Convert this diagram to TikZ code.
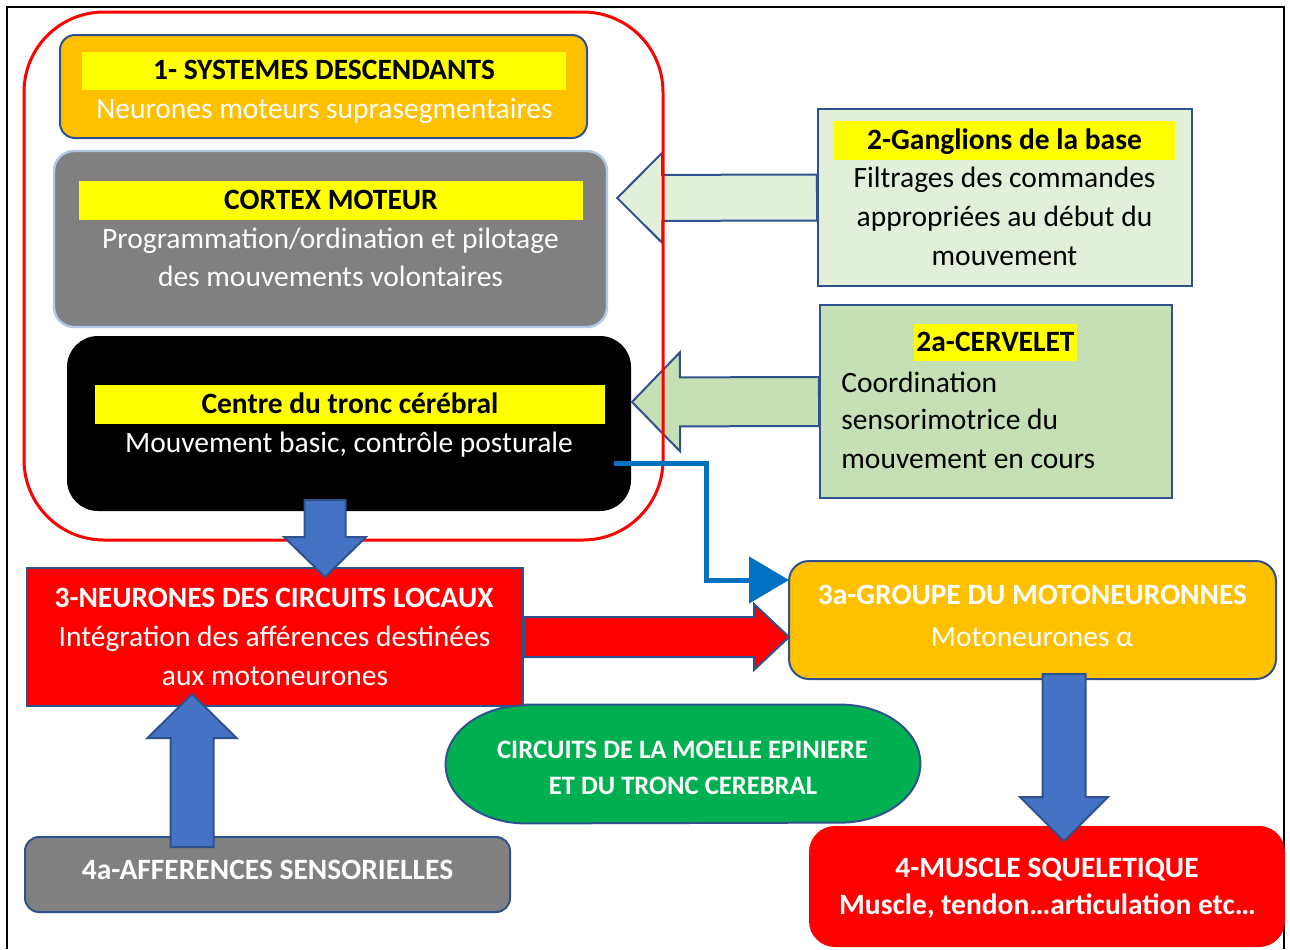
\documentclass[tikz,border=0pt]{standalone}
\usepackage{fontspec}
\setmainfont{Carlito}
\usetikzlibrary{calc,arrows.meta}
\definecolor{orng}{HTML}{FFC000}
\definecolor{gry}{HTML}{808080}
\definecolor{ylw}{HTML}{FFFF00}
\definecolor{lgreen}{HTML}{E2F0D9}
\definecolor{mgreen}{HTML}{C5E0B4}
\definecolor{dgreen}{HTML}{00B050}
\definecolor{bord}{HTML}{2F528F}
\definecolor{abl}{HTML}{4472C4}
\definecolor{lineblue}{HTML}{0070C0}
\definecolor{lblue}{HTML}{B4C7E7}
\definecolor{rd}{HTML}{FF0000}
\newcommand\blockarr[6]{%
  \coordinate (bah) at ($(#2)!#5!(#1)$);
  \draw[#6] ($(#1)!#3!90:(#2)$) -- ($(bah)!#3!-90:(#1)$) -- ($(bah)!#4!-90:(#1)$) -- (#2)
    -- ($(bah)!#4!90:(#1)$) -- ($(bah)!#3!90:(#1)$) -- ($(#1)!#3!-90:(#2)$) -- cycle;
}
\tikzset{
  box/.style={draw=bord, line width=1pt, inner sep=0},
  band/.style={fill=ylw, inner sep=0, font=\fontsize{14.75}{17}\selectfont\bfseries, text=black, text height=10pt, text depth=1pt},
  lbl/.style={font=\fontsize{14.75}{17}\selectfont, inner sep=0, anchor=base},
  blbl/.style={lbl, font=\fontsize{14.75}{17}\selectfont\bfseries},
  barrow/.style={fill=abl, draw=bord, line width=1pt, line join=miter},
}
\begin{document}
\begin{tikzpicture}[x=0.5pt,y=-0.5pt]
\useasboundingbox (0,0) rectangle (1290,949);
\fill[white] (0,0) rectangle (1290,949);
% outer frame
\draw[line width=1pt] (7,949) -- (7,7) -- (1284,7) -- (1284,949);

% 1- systemes descendants
\node[box, fill=orng, rounded corners=7.5pt, minimum width=263.5pt, minimum height=51.5pt] (sys) at (323.5,86.5) {};
\node[band, minimum width=242pt, minimum height=19pt] (sysT) at (324,70.5) {1- SYSTEMES DESCENDANTS};
\node[lbl, text=white] (sysS) at (324.5,118) {Neurones moteurs suprasegmentaires};

% cortex moteur
\node[box, draw=lblue, line width=1.2pt, fill=gry, rounded corners=10pt, minimum width=276.5pt, minimum height=88pt] (cortex) at (330.5,239) {};
\node[band, minimum width=252pt, minimum height=19.5pt] (cortexT) at (331,200.5) {CORTEX MOTEUR};
\node[lbl, text=white] (cortexS1) at (330.5,248) {Programmation/ordination et pilotage};
\node[lbl, text=white] (cortexS2) at (330.5,286) {des mouvements volontaires};

% tronc cerebral
\node[box, draw=black, fill=black, rounded corners=15pt, minimum width=281pt, minimum height=86.5pt] (tronc) at (349,423.5) {};
\node[band, minimum width=255pt, minimum height=19.5pt] (troncT) at (350,404.5) {Centre du tronc cérébral};
\node[lbl, text=white] (troncS) at (349,452) {Mouvement basic, contrôle posturale};

% ganglions
\node[box, fill=lgreen, minimum width=187pt, minimum height=88.5pt] (gang) at (1005,197.5) {};
\node[band, minimum width=170.5pt, minimum height=19.5pt] (gangT) at (1004.5,140.5) {2-Ganglions de la base};
\node[lbl] (gangS1) at (1004.5,187) {Filtrages des commandes};
\node[lbl] (gangS2) at (1004.5,226) {appropriées au début du};
\node[lbl] (gangS3) at (1004.5,265) {mouvement};

% cervelet
\node[box, fill=mgreen, minimum width=176pt, minimum height=96.5pt] (cerv) at (996,401.5) {};
\node[band, minimum width=81.5pt, minimum height=18.5pt] (cervT) at (995.5,342.5) {2a-CERVELET};
\node[lbl, anchor=base west] (cervS1) at (841,392) {Coordination};
\node[lbl, anchor=base west] (cervS2) at (841,429) {sensorimotrice du};
\node[lbl, anchor=base west] (cervS3) at (841,468) {mouvement en cours};

% 3- neurones des circuits locaux
\node[box, fill=rd, minimum width=248pt, minimum height=69pt] (neur) at (275,637) {};
\node[blbl, text=white] (neurT) at (274,607) {3-NEURONES DES CIRCUITS LOCAUX};
\node[lbl, text=white] (neurS1) at (274.5,646) {Intégration des afférences destinées};
\node[lbl, text=white] (neurS2) at (275,685) {aux motoneurones};

% 3a- groupe du motoneuronnes
\node[box, fill=orng, rounded corners=10pt, minimum width=243.5pt, minimum height=59pt] (mot) at (1032.5,620) {};
\node[blbl, text=white] (motT) at (1032.5,604) {3a-GROUPE DU MOTONEURONNES};
\node[lbl, text=white] (motS) at (1032,646) {Motoneurones α};

% circuits de la moelle
\node[inner sep=0, minimum width=237pt, minimum height=59pt] (moelle) at (683,764) {};
\path[fill=dgreen, draw=bord, line width=1pt]
  ([xshift=40pt]moelle.north west) -- ([xshift=-40pt]moelle.north east)
  arc[start angle=90, end angle=-90, x radius=40pt, y radius=29.5pt]
  -- ([xshift=40pt]moelle.south west)
  arc[start angle=270, end angle=90, x radius=40pt, y radius=29.5pt] -- cycle;
\node[blbl, text=white, font=\fontsize{13.3}{15}\selectfont\bfseries] (moelleS1) at (682.5,758) {CIRCUITS DE LA MOELLE EPINIERE};
\node[blbl, text=white, font=\fontsize{13.3}{15}\selectfont\bfseries] (moelleS2) at (683,794) {ET DU TRONC CEREBRAL};

% 4a afferences
\node[box, fill=gry, rounded corners=7pt, minimum width=242.5pt, minimum height=37.5pt] (aff) at (267.5,874.5) {};
\node[blbl, text=white] (affT) at (267.5,879) {4a-AFFERENCES SENSORIELLES};

% 4 muscle
\node[box, draw=rd, fill=rd, rounded corners=12.5pt, minimum width=237pt, minimum height=59.5pt] (musc) at (1047,886.5) {};
\node[blbl, text=white] (muscT) at (1047,877) {4-MUSCLE SQUELETIQUE};
\node[blbl, text=white] (muscS) at (1047.5,914) {Muscle, tendon…articulation etc…};

% side arrows
\coordinate (gtip) at ($(cortex.east)+(9,-41)$);
\blockarr{gang.west}{gtip}{11.5pt}{22.5pt}{22.5pt}{fill=lgreen, draw=bord, line width=1pt}
\coordinate (ctip) at ($(tronc.east)+(1,-21.5)$);
\blockarr{cerv.west}{ctip}{12.25pt}{24.75pt}{24pt}{fill=mgreen, draw=bord, line width=1pt}

% red grouping frame
\node[draw=rd, line width=1.5pt, rounded corners=40pt, minimum width=319.5pt, minimum height=264pt, inner sep=0] (grp) at (343.5,276) {};

% blue elbow connector
\coordinate (bs) at ($(tronc.east)+(-17,39.5)$);
\coordinate (be) at ($(mot.west)+(1,-40)$);
\draw[lineblue, line width=2.5pt, -{Triangle[length=20pt,width=23pt]}] (bs) -- ++(92,0) |- (be);

% block arrows
\coordinate (a1t) at ($(tronc.south)+(-24,-11)$);
\coordinate (a1h) at ($(neur.north)+(50,10)$);
\blockarr{a1t}{a1h}{10.25pt}{20.5pt}{20pt}{barrow}

\coordinate (rtip) at ($(mot.west)+(1,17)$);
\blockarr{neur.east}{rtip}{10pt}{16.5pt}{17.5pt}{fill=rd, draw=bord, line width=1pt}

\coordinate (a2t) at ($(aff.north)+(-75.5,11)$);
\coordinate (a2h) at ($(neur.south)+(-83,-13)$);
\blockarr{a2t}{a2h}{10.75pt}{22.25pt}{22pt}{barrow}

\coordinate (a3t) at ($(mot.south)+(31.5,-6)$);
\coordinate (a3h) at ($(musc.north)+(17,15)$);
\blockarr{a3t}{a3h}{10.75pt}{22pt}{22pt}{barrow}
\end{tikzpicture}
\end{document}
